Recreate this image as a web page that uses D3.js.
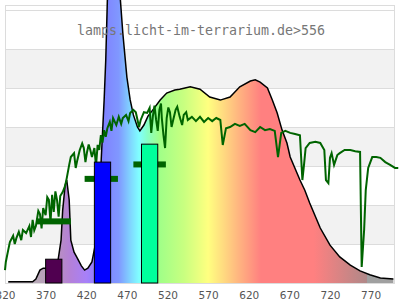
<!DOCTYPE html>
<html>
<head>
<meta charset="utf-8">
<script src="https://d3js.org/d3.v7.min.js"></script>
<style>
  body { margin: 0; background: #fff; }
  svg { display: block; }
</style>
</head>
<body>
<div id="chart"></div>
<script>
// lamp spectrum (wavelength nm / relative value)
var specWl = [324, 354, 358, 363, 367, 371, 378, 385, 389, 391, 394, 396, 399, 401, 405, 409, 414, 418, 422, 427, 431, 436, 439, 442, 444, 446, 449, 453, 457, 462, 465, 470, 474, 478, 483, 486, 491, 496, 502, 511, 519, 529, 535, 548, 560, 572, 585, 597, 609, 622, 628, 634, 643, 649, 655, 661, 667, 671, 683, 689, 695, 708, 720, 732, 745, 757, 769, 782, 798];
var specVal = [0.3, 0.3, 1.0, 3.3, 3.8, 3.8, 4.4, 5.4, 11.0, 18.7, 25.1, 26.4, 21.3, 11.0, 7.9, 6.4, 4.4, 3.3, 3.8, 5.4, 9.7, 21.3, 34.1, 46.9, 57.2, 72.6, 82.8, 87.9, 82.8, 72.6, 64.1, 52.8, 47.0, 43.1, 40.0, 39.0, 40.5, 42.8, 44.4, 46.9, 48.7, 49.5, 49.7, 50.3, 49.7, 47.7, 46.9, 47.7, 50.3, 51.8, 52.1, 51.5, 50.0, 46.9, 43.6, 39.2, 35.9, 32.3, 26.4, 23.8, 20.5, 14.1, 9.7, 6.7, 4.6, 3.1, 2.1, 1.3, 1.0];

// daylight reference (green line)
var sunWl = [320, 321, 324, 326, 330, 332, 334, 337, 340, 342, 346, 350, 352, 354, 356, 358, 361, 363, 365, 367,
    370, 372, 374, 376, 378, 380, 382, 384, 386, 388, 391, 394, 396, 399, 401, 405, 407, 409, 412, 415,
    417, 419, 421, 423, 425, 427, 430, 432, 434, 436, 438, 440, 442, 444, 446, 449, 451, 453, 457, 460,
    463, 465, 469, 472, 474, 478, 481, 485, 487, 491, 495, 498, 500, 502, 504, 506, 508, 510, 512, 513,
    515, 517, 519, 521, 523, 525, 527, 530, 532, 535, 538, 540, 543, 545, 550, 555, 560, 565, 570, 575,
    580, 585, 588, 592, 597, 603, 609, 615, 622, 628, 634, 640, 646, 652, 656, 660, 665, 671, 677, 683,
    686, 688, 690, 695, 702, 708, 713, 715, 718, 720, 722, 725, 729, 732, 738, 745, 751, 757, 759, 762,
    764, 767, 772, 777, 782, 788, 794, 800, 804];
var sunVal = [3.3, 5.4, 8.5, 10.5, 12.1, 10.0, 11.5, 13.1, 11.0, 13.6, 12.8, 14.6, 11.8, 16.2, 13.5, 14.6, 18.5, 17.7, 14.0, 19.2,
    17.4, 22.0, 21.3, 15.5, 22.6, 18.2, 23.5, 21.3, 17.0, 22.3, 23.3, 24.9, 26.9, 30.3, 32.3, 33.3, 29.5, 31.5, 34.1, 35.8,
    34.6, 31.0, 33.6, 35.5, 34.1, 32.3, 34.6, 30.0, 35.4, 34.1, 37.9, 36.0, 39.2, 37.5, 39.7, 41.3, 39.0, 42.3, 40.5, 42.6,
    40.8, 42.3, 43.1, 41.5, 43.6, 44.4, 43.8, 40.0, 41.8, 43.8, 43.6, 44.9, 38.5, 42.8, 45.5, 41.8, 39.0, 44.4, 46.0, 42.3,
    38.0, 34.6, 42.3, 45.0, 43.8, 40.0, 41.8, 44.4, 45.2, 42.6, 40.5, 43.1, 43.8, 41.8, 42.6, 41.5, 42.6, 41.3, 42.3, 41.5,
    42.3, 41.8, 35.4, 39.7, 40.0, 40.8, 40.3, 40.8, 39.2, 38.7, 40.0, 39.2, 39.5, 39.0, 32.3, 38.5, 39.0, 38.5, 38.2, 37.9,
    26.4, 30.3, 34.6, 35.9, 36.2, 35.9, 34.1, 26.4, 25.6, 32.1, 33.3, 30.3, 32.8, 33.3, 34.1, 34.1, 33.8, 33.6, 4.1, 13.6,
    23.8, 29.5, 32.3, 32.3, 32.1, 31.0, 30.3, 29.5, 29.5];

// bars: band limits and height
var barLo = [370, 430, 488];
var barHi = [390, 450, 508];
var barVal = [6.1, 31.0, 35.6];
var barColors = ["#500050", "#0000ff", "#00ff9c"];

// green marks
var markLo = [359, 418, 478];
var markHi = [401, 459, 518];
var markVal = [15.8, 26.7, 30.4];

var tickVals = [320, 370, 420, 470, 520, 570, 620, 670, 720, 770];
var gridVals = [0, 10, 20, 30, 40, 50, 60, 70];

// colour of the fill along the wavelength
var gradWl = [320, 360, 385, 400, 420, 440, 460, 475, 485, 495, 510, 540, 570, 590, 610, 635, 700, 765, 766, 800];
var gradCol = ["#b4b0b4", "#b8a8b8", "#b890c0", "#b480d8", "#a880f8", "#8080ff", "#8098ff", "#80d8ff", "#80ffff", "#88ffc8", "#a0ff88", "#c8ff80", "#ffff80", "#ffd880", "#ffb080", "#ff8080", "#ff8080", "#b08888", "#a0a0a0", "#a0a0a0"];

var W = 400, H = 300;
var svg = d3.select("#chart").append("svg")
    .attr("width", W)
    .attr("height", H);

var x = d3.scaleLinear().domain([320, 800]).range([5, 395]);
var y = d3.scaleLinear().domain([0, 70]).range([283, 10]);

// background bands
for (var i = 0; i < gridVals.length - 1; i++) {
    if (i % 2 == 1) {
        svg.append("rect")
            .attr("x", x(320))
            .attr("y", y(gridVals[i + 1]))
            .attr("width", x(800) - x(320))
            .attr("height", y(gridVals[i]) - y(gridVals[i + 1]))
            .attr("fill", "#f2f2f2");
    }
}
svg.selectAll(".grid").data(gridVals).enter().append("line")
    .attr("x1", x(320)).attr("x2", x(800))
    .attr("y1", function (d) { return y(d) + 0.5; })
    .attr("y2", function (d) { return y(d) + 0.5; })
    .attr("stroke", "#dcdcdc");
svg.append("rect")
    .attr("x", x(320) + 0.5).attr("y", 5.5)
    .attr("width", x(800) - x(320) - 1).attr("height", y(0) - 5)
    .attr("fill", "none")
    .attr("stroke", "#dcdcdc");

// gradient
var grad = svg.append("defs").append("linearGradient")
    .attr("id", "spec")
    .attr("gradientUnits", "userSpaceOnUse")
    .attr("x1", x(320)).attr("x2", x(800))
    .attr("y1", 0).attr("y2", 0);
gradWl.forEach(function (w, k) {
    grad.append("stop")
        .attr("offset", (w - 320) / 480)
        .attr("stop-color", gradCol[k]);
});

var spec = specWl.map(function (w, k) { return { w: w, v: specVal[k] }; });
var sun = sunWl.map(function (w, k) { return { w: w, v: sunVal[k] }; });

svg.append("path")
    .datum(spec)
    .attr("d", d3.area()
        .x(function (d) { return x(d.w); })
        .y0(y(0))
        .y1(function (d) { return y(d.v); }))
    .attr("fill", "url(#spec)");
svg.append("path")
    .datum(spec)
    .attr("d", d3.line()
        .x(function (d) { return x(d.w); })
        .y(function (d) { return y(d.v); }))
    .attr("fill", "none")
    .attr("stroke", "#000")
    .attr("stroke-width", 1.5);

// daylight line
svg.append("path")
    .datum(sun)
    .attr("d", d3.line()
        .x(function (d) { return x(d.w); })
        .y(function (d) { return y(d.v); }))
    .attr("fill", "none")
    .attr("stroke", "#006400")
    .attr("stroke-width", 2);

// marks
markLo.forEach(function (lo, k) {
    svg.append("rect")
        .attr("x", x(lo))
        .attr("y", y(markVal[k]) - 3)
        .attr("width", x(markHi[k]) - x(lo))
        .attr("height", 6)
        .attr("fill", "#006400");
});

// bars
barLo.forEach(function (lo, k) {
    svg.append("rect")
        .attr("x", x(lo))
        .attr("y", y(barVal[k]))
        .attr("width", x(barHi[k]) - x(lo))
        .attr("height", y(0) - y(barVal[k]))
        .attr("fill", barColors[k])
        .attr("stroke", "#000")
        .attr("stroke-width", 1);
});

// x axis labels
var xAxis = svg.append("g")
    .attr("transform", "translate(0," + (y(0) + 6) + ")")
    .call(d3.axisBottom(x).tickValues(tickVals).tickSize(0).tickFormat(d3.format("d")));
xAxis.select(".domain").remove();
xAxis.selectAll("text")
    .attr("font-family", "DejaVu Sans, sans-serif")
    .attr("font-size", "10.5px")
    .attr("fill", "#555");

// title
svg.append("text")
    .attr("x", 201)
    .attr("y", 35)
    .attr("text-anchor", "middle")
    .attr("font-family", "DejaVu Sans Mono, monospace")
    .attr("font-size", "13.3px")
    .attr("fill", "#777")
    .text("lamps.licht-im-terrarium.de>556");
</script>
</body>
</html>
